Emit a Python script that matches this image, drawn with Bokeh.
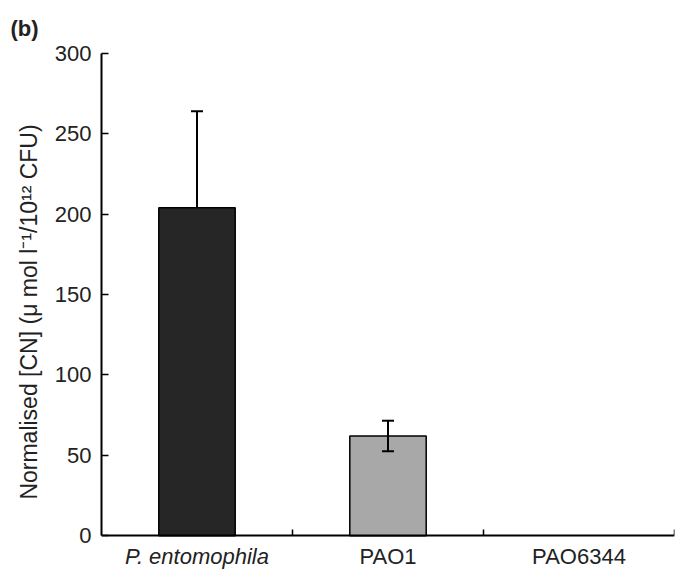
from bokeh.plotting import figure
from bokeh.models import FixedTicker, Label, Range1d, Whisker, TeeHead, ColumnDataSource
from bokeh.embed import file_html
from bokeh.resources import INLINE

categories = ["P. entomophila", "PAO1", "PAO6344"]
values = [204, 62, 0]
errors = [60, 9.5, 0]
bar_colors = ["#262626", "#a8a8a8", "#ffffff"]
label_styles = ["italic", "normal", "normal"]
y_ticks = [0, 50, 100, 150, 200, 250, 300]

xs = [i + 0.5 for i in range(len(categories))]
FONT = "Liberation Sans"

p = figure(width=677, height=570, x_range=Range1d(0, len(categories)), y_range=Range1d(-21.7, 300),
           output_backend="svg", toolbar_location=None,
           min_border_left=101, min_border_right=3, min_border_top=51, min_border_bottom=0)
p.outline_line_color = None
p.xgrid.visible = False
p.ygrid.visible = False
p.background_fill_color = "white"

keep = [i for i, v in enumerate(values) if v > 0]
bars = ColumnDataSource(dict(x=[xs[i] for i in keep], top=[values[i] for i in keep],
                             color=[bar_colors[i] for i in keep]))
p.vbar(x="x", top="top", width=0.4, fill_color="color", line_color="black", line_width=1.5, source=bars)

# error bars: the lower half sits behind a dark bar (hidden), in front of a light one
for i in keep:
    src = ColumnDataSource(dict(x=[xs[i]], lo=[values[i] - errors[i]], hi=[values[i] + errors[i]]))
    dark = bar_colors[i] == "#262626"
    w = Whisker(base="x", lower="lo", upper="hi", source=src,
                level="underlay" if dark else "overlay",
                line_width=2, line_color="black",
                upper_head=TeeHead(size=12, line_width=2, line_color="black"),
                lower_head=TeeHead(size=12, line_width=2, line_color="black"))
    p.add_layout(w)

# axes
p.xaxis.fixed_location = 0
p.xaxis.ticker = FixedTicker(ticks=[], minor_ticks=list(range(1, len(categories) + 1)))
p.xaxis.major_tick_line_color = None
p.xaxis.minor_tick_in = 6
p.xaxis.minor_tick_out = 0
p.xaxis.minor_tick_line_width = 1.5
p.xaxis.minor_tick_line_color = "black"
p.xaxis.major_label_standoff = 0
p.xaxis.axis_line_width = 2

p.yaxis.bounds = (0, 300)
p.yaxis.ticker = FixedTicker(ticks=y_ticks)
p.yaxis.major_tick_in = 7
p.yaxis.major_tick_out = 0
p.yaxis.minor_tick_line_color = None
p.yaxis.axis_line_width = 2
p.yaxis.major_tick_line_width = 1.5
p.yaxis.major_label_text_font = FONT
p.yaxis.major_label_text_font_size = "22px"
p.yaxis.major_label_text_color = "#222222"
p.yaxis.major_label_standoff = 10
p.yaxis.axis_label = "Normalised [CN] (\u03bc mol l\u207b\u00b9/10\u00b9\u00b2 CFU)"
p.yaxis.axis_label_text_font = FONT
p.yaxis.axis_label_text_font_style = "normal"
p.yaxis.axis_label_text_font_size = "23px"
p.yaxis.axis_label_text_color = "#222222"
p.yaxis.axis_label_standoff = 10

for x, name, style in zip(xs, categories, label_styles):
    p.add_layout(Label(x=x, y=0, y_offset=-21, text=name, text_align="center", text_baseline="alphabetic",
                       text_font=FONT, text_font_size="22px", text_font_style=style,
                       text_color="#222222"))

p.title.text = "(b)"
p.title.align = "left"
p.title.offset = -91
p.title.standoff = 26
p.title.text_font = FONT
p.title.text_font_size = "22px"
p.title.text_font_style = "bold"
p.title.text_color = "#222222"

open("out.html", "w").write(file_html(p, INLINE))
